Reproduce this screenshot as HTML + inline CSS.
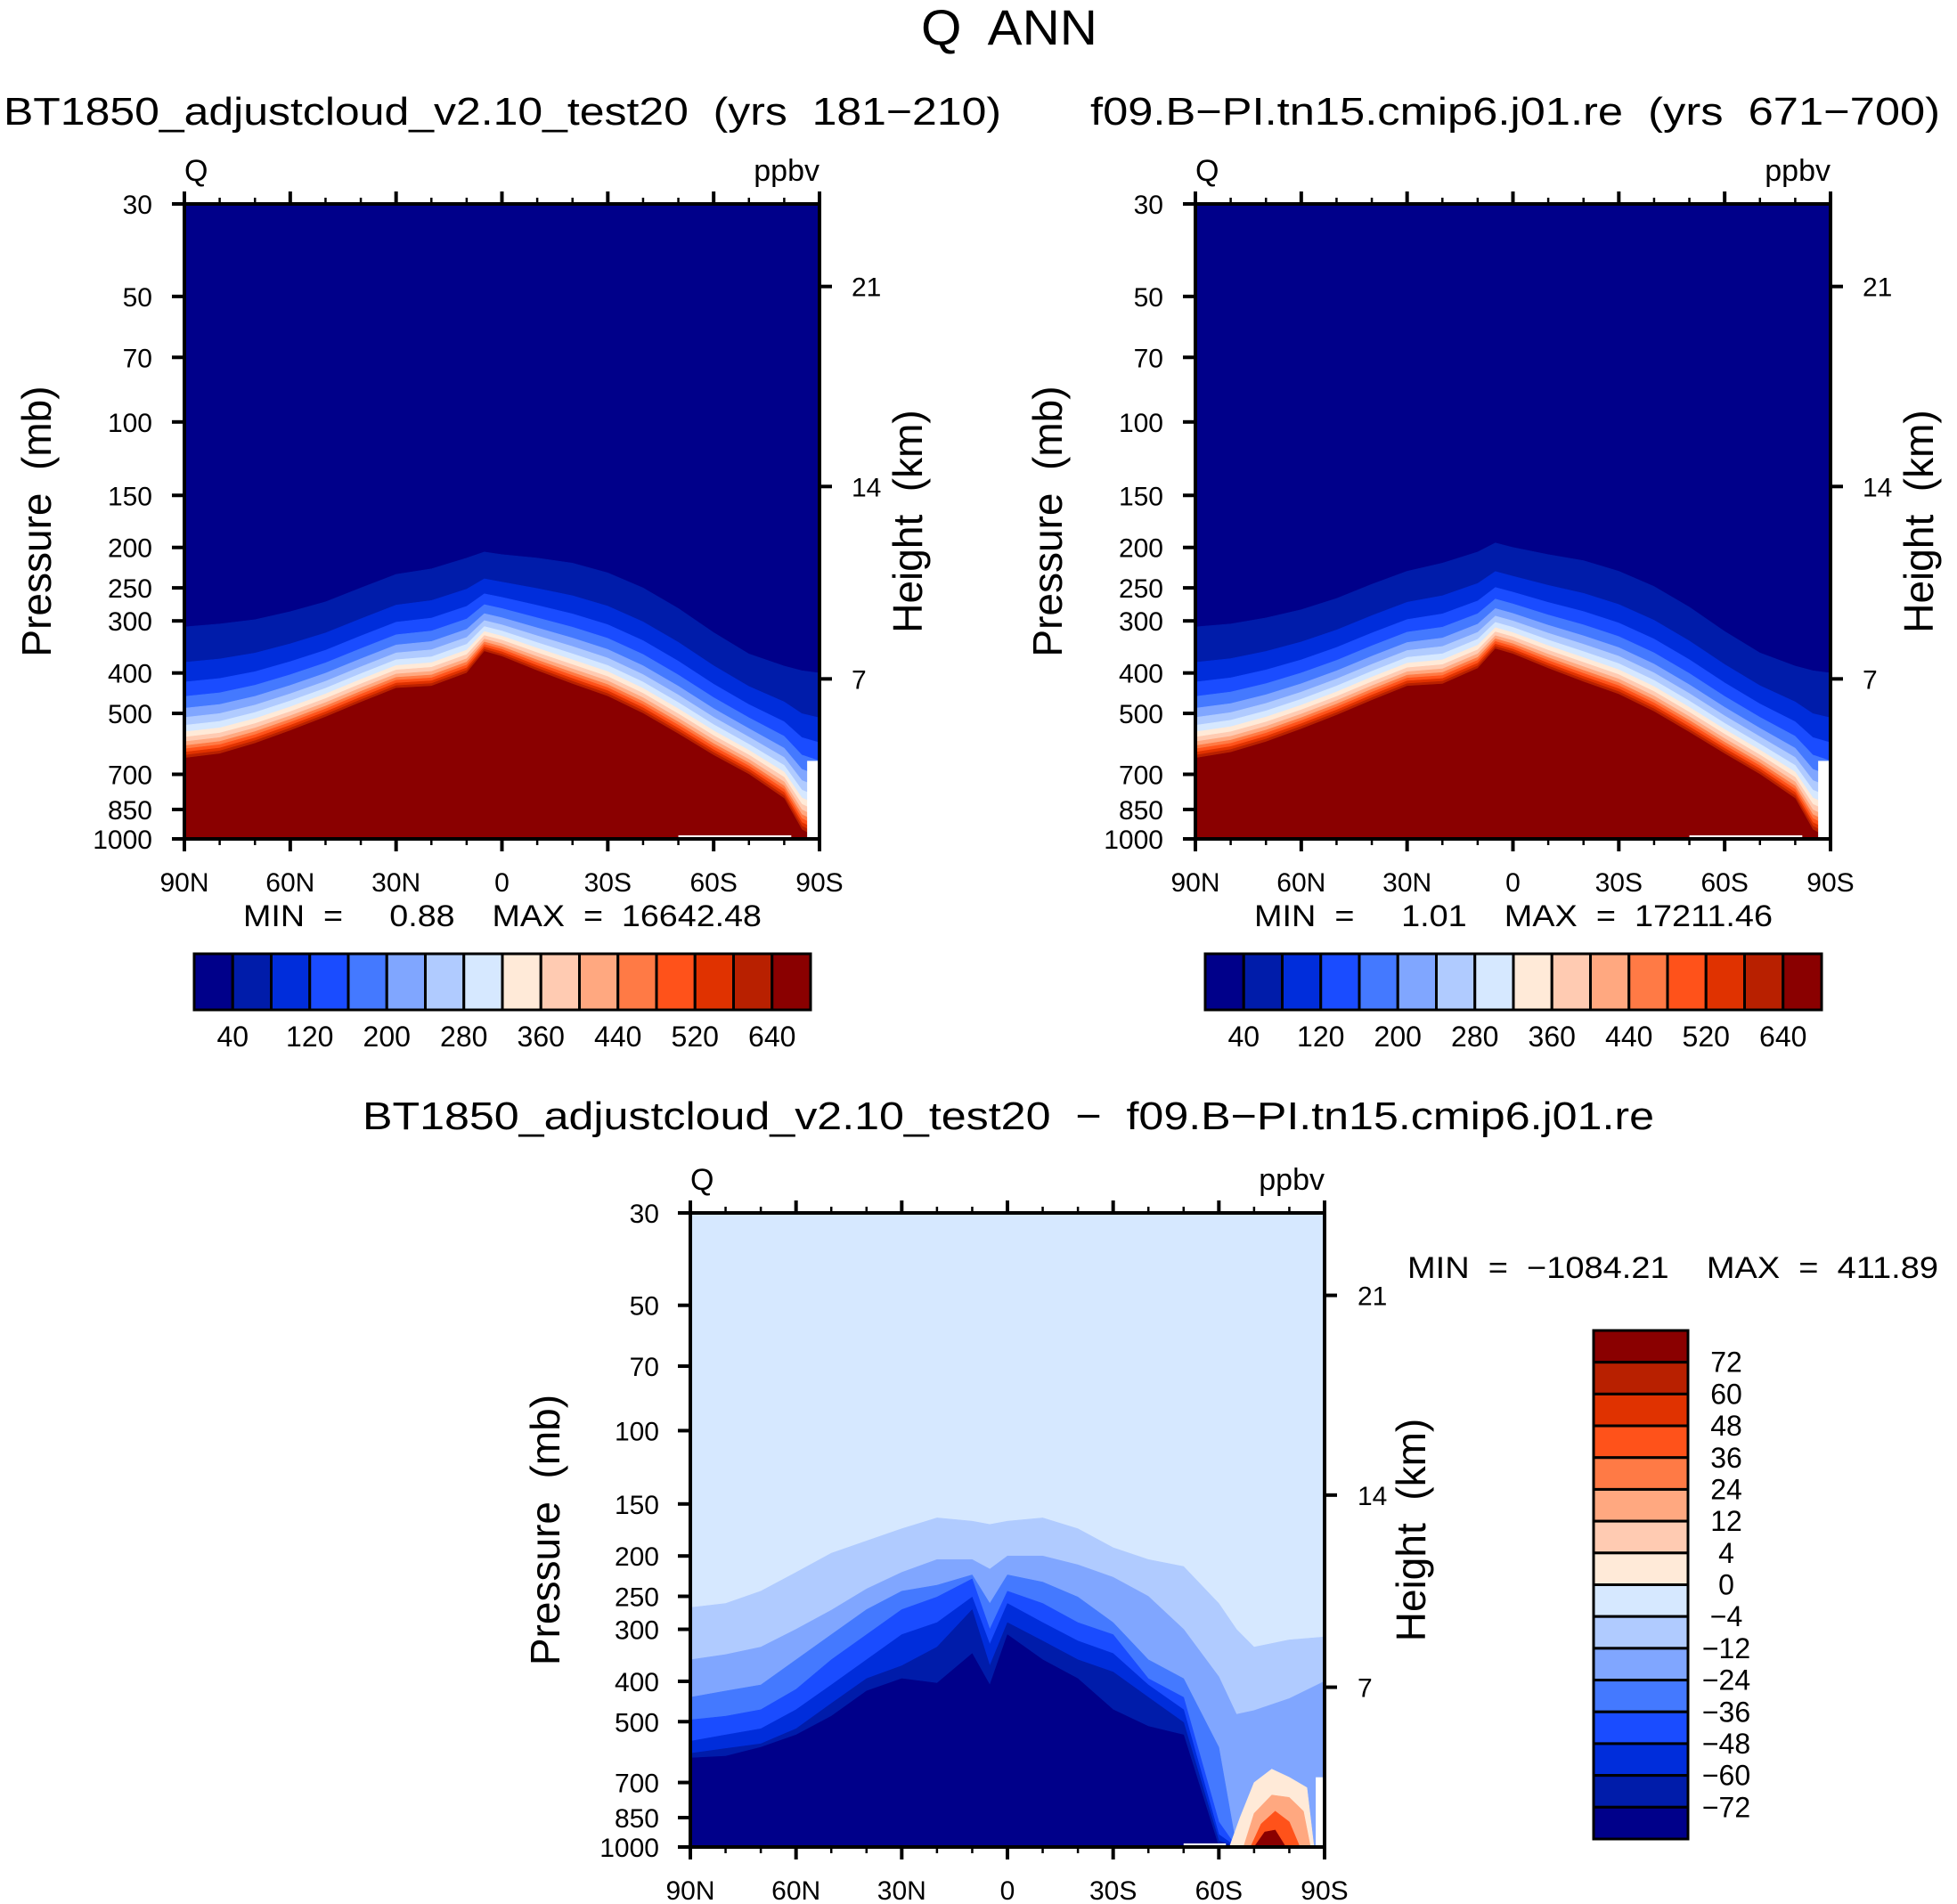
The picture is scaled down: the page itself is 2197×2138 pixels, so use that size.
<!DOCTYPE html>
<html><head><meta charset="utf-8"><style>
html,body{margin:0;padding:0;background:#fff}
svg{display:block}
text{font-family:"Liberation Sans",sans-serif;fill:#000;white-space:pre}
</style></head><body>
<svg id="fig" xmlns="http://www.w3.org/2000/svg" width="2197" height="2138" viewBox="0 0 2197 2138">
<rect width="2197" height="2138" fill="#fff"/>
<text x="1133" y="50" font-size="56" text-anchor="middle" textLength="198" lengthAdjust="spacingAndGlyphs">Q  ANN</text>
<text x="4" y="140" font-size="44" textLength="1120" lengthAdjust="spacingAndGlyphs">BT1850_adjustcloud_v2.10_test20  (yrs  181−210)</text>
<text x="1224" y="140" font-size="44" textLength="954" lengthAdjust="spacingAndGlyphs">f09.B−PI.tn15.cmip6.j01.re  (yrs  671−700)</text>
<text x="407" y="1268" font-size="44" textLength="1450" lengthAdjust="spacingAndGlyphs">BT1850_adjustcloud_v2.10_test20  −  f09.B−PI.tn15.cmip6.j01.re</text>
<g id="layer"></g>
</svg>
<script>
// ---- data ----
const lats = [90,80,70,60,50,40,30,20,10,5,0,-10,-20,-30,-40,-50,-60,-70,-80,-85,-90];
const leftNavyTop = [310,305,298,285,270,250,232,225,212,205,208,212,218,230,250,280,320,360,385,395,400];
const leftRedTop  = [640,625,590,550,510,470,435,430,400,355,365,395,425,455,500,560,630,700,800,950,1000];
const rightNavyTop = [310,305,295,282,265,245,228,218,205,195,200,208,215,228,248,278,318,358,385,395,400];
const rightRedTop  = [640,620,585,545,505,465,430,425,390,350,360,390,420,450,495,555,625,700,800,950,1000];
const bandFractions = [0,0.27,0.42,0.53,0.62,0.69,0.75,0.8,0.84,0.875,0.905,0.93,0.955,0.978,1];
const topTickLabels = ['40','120','200','280','360','440','520','640'];
const topTickBoundaries = [1,3,5,7,9,11,13,15];

const dLats = [90,80,70,60,50,40,30,20,10,5,0,-10,-20,-30,-40,-50,-60,-65,-70,-80,-90];
const diffM4  = [266,260,243,219,197,184,172,162,165,168,165,162,172,191,204,212,260,300,331,318,313];
const diffM12 = [355,345,331,300,270,240,219,204,204,215,200,200,210,225,250,300,390,480,470,440,400];
const diffM24 = [437,422,408,355,309,269,243,235,222,260,222,231,251,289,355,394,576,1000,1000,1000,1000];
const diffM36 = [495,485,468,418,355,309,269,251,227,300,243,260,289,309,394,437,870,1000,1000,1000,1000];
const diffM48 = [557,538,520,468,408,355,309,289,251,326,260,289,320,343,408,468,933,1000,1000,1000,1000];
const diffM60 = [596,580,565,520,452,394,367,331,269,367,289,320,355,380,437,502,966,1000,1000,1000,1000];
const diffM72 = [611,605,576,538,485,422,394,404,343,408,309,355,394,468,513,538,1000,1000,1000,1000,1000];
const blobP0Lats = [-63,-66,-70,-75,-80,-85,-87];
const blobP0 = [1000,850,700,650,680,720,1000];
const blobP12Lats = [-67,-70,-75,-80,-84,-86];
const blobP12 = [1000,830,750,760,820,1000];
const blobP36Lats = [-69,-72,-76,-80,-83];
const blobP36 = [1000,880,820,870,1000];
const blobP72Lats = [-70,-73,-76,-79];
const blobP72 = [1000,920,910,1000];
const diffLabels = ['72','60','48','36','24','12','4','0','−4','−12','−24','−36','−48','−60','−72'];

const pTicks = [30,50,70,100,150,200,250,300,400,500,700,850,1000];
const hTicks = ['21','14','7'];
const hFrac = [0.13,0.445,0.748];
const latTickLabels = ['90N','60N','30N','0','30S','60S','90S'];

// ---- styling ----
const pal = ['#00008a','#001caa','#002ddb','#1a4cff','#4479ff','#80a6ff','#b0cbff','#d6e8ff','#ffead8','#ffcbb2','#ffa880','#ff7a45','#ff521a','#e03200','#b82000','#8a0000'];
const NS='http://www.w3.org/2000/svg';
const layer=document.getElementById('layer');
function el(tag,attrs,parent){const e=document.createElementNS(NS,tag);for(const k in attrs)e.setAttribute(k,attrs[k]);(parent||layer).appendChild(e);return e;}
function txt(s,attrs,parent){const t=el('text',attrs,parent);t.textContent=s;return t;}

function panel(x0,y0,w,h,name){
  const X=lat=>x0+(90-lat)/180*w;
  const Y=p=>y0+Math.log(p/30)/Math.log(1000/30)*h;
  const g=el('g',{});
  
  
  const clipId=name+'-clip';
  const cp=el('clipPath',{id:clipId},g);el('rect',{x:x0,y:y0,width:w,height:h},cp);
  const plot=el('g',{'clip-path':'url(#'+clipId+')'},g);
  return {X,Y,g,plot,x0,y0,w,h};
}
function fillBelow(P,la,ps,color,name){
  let d='M'+P.X(la[0])+','+P.Y(1000);
  for(let i=0;i<la.length;i++)d+=' L'+P.X(la[i]).toFixed(1)+','+P.Y(ps[i]).toFixed(1);
  d+=' L'+P.X(la[la.length-1])+','+P.Y(1000)+' Z';
  const e=el('path',{d:d,fill:color,stroke:color,'stroke-width':0.5,'stroke-linejoin':'round'},P.plot);
  
  
}
function axes(P,pLabX,hLabX,pTitleX,hTitleX,fs){
  const g=P.g,{x0,y0,w,h}=P;
  el('rect',{x:x0,y:y0,width:w,height:h,fill:'none',stroke:'#000','stroke-width':4},g);
  for(let lat=90;lat>=-90;lat-=10){
    const x=P.X(lat),maj=(lat%30===0);
    const L=maj?14:7;
    el('line',{x1:x,y1:y0,x2:x,y2:y0-L,stroke:'#000','stroke-width':maj?4:2.5},g);
    el('line',{x1:x,y1:y0+h,x2:x,y2:y0+h+L,stroke:'#000','stroke-width':maj?4:2.5},g);
  }
  latTickLabels.forEach((s,i)=>{
    const t=txt(s,{x:x0+i*w/6,y:y0+h+59,'font-size':fs,'text-anchor':'middle'},g);
    
    
  });
  pTicks.forEach(p=>{
    const y=P.Y(p);
    el('line',{x1:x0,y1:y,x2:x0-14,y2:y,stroke:'#000','stroke-width':4},g);
    const t=txt(String(p),{x:pLabX,y:y+11,'font-size':fs,'text-anchor':'end'},g);
    
    
  });
  hTicks.forEach((s,i)=>{
    const y=y0+hFrac[i]*h;
    el('line',{x1:x0+w,y1:y,x2:x0+w+14,y2:y,stroke:'#000','stroke-width':4},g);
    const t=txt(s,{x:hLabX,y:y+11,'font-size':fs},g);
    
    
  });
  const cy=y0+h*0.5;
  const pt=txt('Pressure  (mb)',{x:pTitleX,y:cy,'font-size':46,'text-anchor':'middle',transform:'rotate(-90 '+pTitleX+' '+cy+')'},g);
  
  
  const ht=txt('Height  (km)',{x:hTitleX,y:cy,'font-size':46,'text-anchor':'middle',transform:'rotate(-90 '+hTitleX+' '+cy+')'},g);
  
  
  const q=txt('Q',{x:x0,y:y0-26,'font-size':34},g);
  
  
  const u=txt('ppbv',{x:x0+w,y:y0-26,'font-size':34,'text-anchor':'end'},g);
  
  
}
function topPanel(x0,name,navy,red,minS,maxS,cbx){
  const P=panel(x0,229,713,713,name);
  el('rect',{x:x0,y:229,width:713,height:713,fill:pal[0]},P.plot);
  for(let k=0;k<bandFractions.length;k++){
    const f=bandFractions[k];
    const ps=navy.map((v,i)=>Math.exp(Math.log(v)+f*(Math.log(red[i])-Math.log(v))));
    fillBelow(P,lats,ps,pal[k+1],'contour-band');
  }
  el('rect',{x:P.X(-86.5),y:P.Y(650),width:P.X(-90)-P.X(-86.5),height:P.Y(1000)-P.Y(650),fill:'#fff'},P.plot);
  el('rect',{x:P.X(-50),y:P.Y(1000)-4,width:P.X(-82)-P.X(-50),height:4,fill:'#fff'},P.plot);
  axes(P,x0-36,x0+749,x0-150,x0+828,30);
  const m=txt('MIN  =     '+minS+'    MAX  =  '+maxS,{x:x0+66,y:1040,'font-size':34,textLength:582,lengthAdjust:'spacingAndGlyphs'},P.g);
  
  
  const cb=el('g',{});
  
  
  const bw=692/16;
  for(let i=0;i<16;i++){
    const r=el('rect',{x:cbx+i*bw,y:1071,width:bw,height:63,fill:pal[i],stroke:'#000','stroke-width':3},cb);
    
    
  }
  topTickLabels.forEach((s,i)=>{
    const t=txt(s,{x:cbx+topTickBoundaries[i]*bw,y:1175,'font-size':32,'text-anchor':'middle'},cb);
    
    
  });
}
topPanel(207,'left-panel',leftNavyTop,leftRedTop,'0.88','16642.48',218);
topPanel(1342,'right-panel',rightNavyTop,rightRedTop,'1.01','17211.46',1353);

const D=panel(775,1362,712,712,'difference-panel');
el('rect',{x:775,y:1362,width:712,height:712,fill:pal[7]},D.plot);
[diffM4,diffM12,diffM24,diffM36,diffM48,diffM60,diffM72].forEach((arr,i)=>fillBelow(D,dLats,arr,pal[6-i],'difference-band'));
fillBelow(D,blobP0Lats,blobP0,pal[8],'positive-anomaly');
fillBelow(D,blobP12Lats,blobP12,pal[10],'positive-anomaly');
fillBelow(D,blobP36Lats,blobP36,pal[12],'positive-anomaly');
fillBelow(D,blobP72Lats,blobP72,pal[15],'positive-anomaly');
el('rect',{x:D.X(-87.5),y:D.Y(680),width:D.X(-90)-D.X(-87.5),height:D.Y(1000)-D.Y(680),fill:'#fff'},D.plot);
el('rect',{x:D.X(-50),y:D.Y(1000)-4,width:D.X(-62)-D.X(-50),height:4,fill:'#fff'},D.plot);
axes(D,740,1524,628,1600,30);
const dm=txt('MIN  =  −1084.21    MAX  =  411.89',{x:1580,y:1435,'font-size':34,textLength:596,lengthAdjust:'spacingAndGlyphs'});


const dcb=el('g',{});


const bh=571/16;
for(let i=0;i<16;i++){
  const r=el('rect',{x:1789,y:1494+i*bh,width:106,height:bh,fill:pal[15-i],stroke:'#000','stroke-width':3},dcb);
  
  
}
diffLabels.forEach((s,i)=>{
  const t=txt(s,{x:1938,y:1494+(i+1)*bh+11,'font-size':32,'text-anchor':'middle'},dcb);
  
  
});
</script>
</body></html>
